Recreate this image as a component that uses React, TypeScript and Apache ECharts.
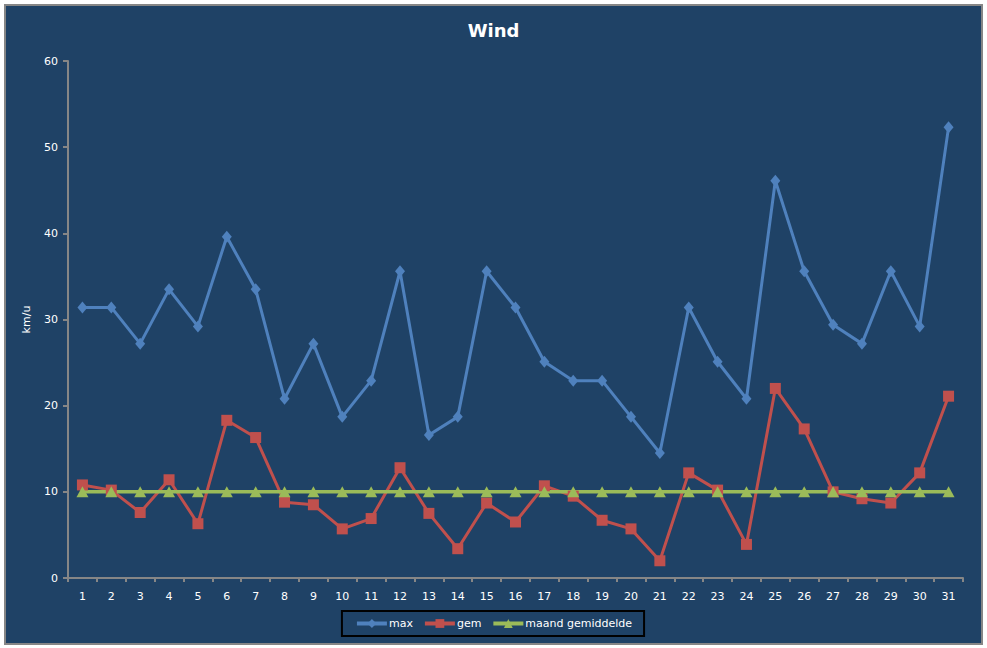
import React, { useEffect, useRef } from "react";
import * as echarts from "echarts";

const DAYS = Array.from({ length: 31 }, (_, i) => String(i + 1));

const MAX_WIND = [
  31.4, 31.4, 27.2, 33.5, 29.2, 39.6, 33.5, 20.8, 27.2, 18.7, 22.9, 35.6, 16.6,
  18.7, 35.6, 31.4, 25.1, 22.9, 22.9, 18.7, 14.5, 31.4, 25.1, 20.8, 46.1, 35.6,
  29.4, 27.2, 35.6, 29.2, 52.3,
];

const AVG_WIND = [
  10.8, 10.2, 7.6, 11.4, 6.3, 18.3, 16.3, 8.8, 8.5, 5.7, 6.9, 12.8, 7.5, 3.4,
  8.7, 6.5, 10.7, 9.5, 6.7, 5.7, 2.0, 12.2, 10.2, 3.9, 22.0, 17.3, 10.0, 9.2,
  8.7, 12.2, 21.1,
];

const MONTH_AVG = DAYS.map(() => 10);

const BG = "#1F4266";
const AXIS = "#868686";
const FONT = "DejaVu Sans";

const App: React.FC = () => {
  const chartRef = useRef<HTMLDivElement | null>(null);

  useEffect(() => {
    if (!chartRef.current) return;
    const chart = echarts.init(chartRef.current, undefined, { renderer: "svg" });

    const options: echarts.EChartsOption = {
      animation: false,
      backgroundColor: "#ffffff",
      textStyle: { fontFamily: FONT },
      graphic: [
        {
          type: "rect",
          shape: { x: 5, y: 5, width: 977, height: 639 },
          style: { fill: BG, stroke: AXIS, lineWidth: 2 },
          z: -10,
        },
      ],
      title: {
        text: "Wind",
        left: "center",
        top: 16,
        textStyle: { color: "#ffffff", fontSize: 18, fontWeight: "bold", fontFamily: FONT },
      },
      grid: { left: 68, right: 24, top: 61, bottom: 70 },
      legend: {
        left: "center",
        top: 611,
        backgroundColor: BG,
        borderColor: "#000000",
        borderWidth: 2,
        borderRadius: 0,
        padding: [7, 12, 7, 13],
        itemWidth: 30,
        itemHeight: 11,
        itemGap: 10,
        lineStyle: { width: 4 },
        textStyle: { color: "#ffffff", fontSize: 11, fontFamily: FONT, padding: [0, 0, 0, -3] },
        data: ["max", "gem", "maand gemiddelde"],
      },
      xAxis: {
        type: "category",
        data: DAYS,
        boundaryGap: true,
        axisLine: { lineStyle: { color: AXIS, width: 2 } },
        axisTick: { show: true, length: 4, interval: 0, lineStyle: { color: AXIS, width: 2 } },
        axisLabel: { color: "#ffffff", fontSize: 11, margin: 13, interval: 0 },
      },
      yAxis: {
        type: "value",
        min: 0,
        max: 60,
        interval: 10,
        name: "km/u",
        nameLocation: "middle",
        nameGap: 36,
        nameTextStyle: { color: "#ffffff", fontSize: 11 },
        axisLine: { show: true, lineStyle: { color: AXIS, width: 2 } },
        axisTick: { show: true, length: 5, lineStyle: { color: AXIS, width: 2 } },
        axisLabel: { color: "#ffffff", fontSize: 11, margin: 10 },
        splitLine: { show: false },
      },
      series: [
        {
          name: "max",
          type: "line",
          data: MAX_WIND,
          symbol: "diamond",
          symbolSize: [10, 12],
          lineStyle: { color: "#4F81BD", width: 3 },
          itemStyle: { color: "#4F81BD" },
        },
        {
          name: "gem",
          type: "line",
          data: AVG_WIND,
          symbol: "rect",
          symbolSize: 11,
          lineStyle: { color: "#C0504D", width: 3 },
          itemStyle: { color: "#C0504D" },
        },
        {
          name: "maand gemiddelde",
          type: "line",
          data: MONTH_AVG,
          symbol: "triangle",
          symbolSize: [12, 11],
          lineStyle: { color: "#9BBB59", width: 3.5 },
          itemStyle: { color: "#9BBB59" },
        },
      ],
    };

    chart.setOption(options);
    return () => chart.dispose();
  }, []);

  return (
    <div
      ref={chartRef}
      style={{ position: "fixed", left: 0, top: 0, width: "987px", height: "648px" }}
    />
  );
};

export default App;
